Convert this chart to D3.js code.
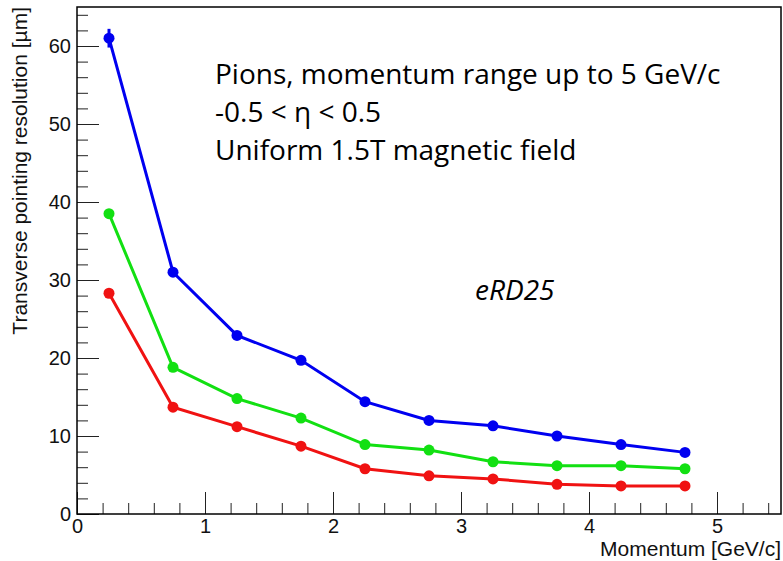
<!DOCTYPE html>
<html>
<head>
<meta charset="utf-8">
<script src="https://cdn.jsdelivr.net/npm/d3@7"></script>
<style>
  html, body { margin: 0; padding: 0; background: #fff; }
  svg { display: block; }
  .tick text { font-family: "Liberation Sans", Arial, sans-serif; }
</style>
</head>
<body>
<div id="chart"></div>
<script>
// momentum bins (GeV/c)
const momentum = [0.25, 0.75, 1.25, 1.75, 2.25, 2.75, 3.25, 3.75, 4.25, 4.75];

// transverse pointing resolution (um)
const blueRes  = [61.0, 31.0, 22.9, 19.7, 14.4, 12.0, 11.3, 10.0, 8.9, 7.9];
const greenRes = [38.5, 18.8, 14.8, 12.3, 8.9, 8.2, 6.7, 6.2, 6.2, 5.8];
const redRes   = [28.3, 13.7, 11.2, 8.7, 5.8, 4.9, 4.5, 3.8, 3.6, 3.6];

// error bars (mostly hidden under markers)
const blueErr  = [1.2, 0.5, 0.4, 0.4, 0.3, 0.3, 0.3, 0.3, 0.3, 0.3];
const greenErr = [0.6, 0.3, 0.3, 0.3, 0.2, 0.2, 0.2, 0.2, 0.2, 0.2];
const redErr   = [0.5, 0.3, 0.3, 0.2, 0.2, 0.2, 0.2, 0.2, 0.2, 0.2];

const xTicks = [0, 1, 2, 3, 4, 5];
const yTicks = [0, 10, 20, 30, 40, 50, 60];

const notes = [
  "Pions, momentum range up to 5 GeV/c",
  "-0.5 < \u03b7 < 0.5",
  "Uniform 1.5T magnetic field"
];

const series = [
  { name: "blue", color: "#0000f0", values: blueRes, errs: blueErr },
  { name: "green", color: "#12e012", values: greenRes, errs: greenErr },
  { name: "red", color: "#f01212", values: redRes, errs: redErr }
];

const width = 783;
const height = 561;
const margin = { top: 7, right: 2, bottom: 47, left: 77 };

const svg = d3.select("#chart")
  .append("svg")
  .attr("width", width)
  .attr("height", height);

const x = d3.scaleLinear()
  .domain([0, 5.5])
  .range([margin.left, width - margin.right]);

const y = d3.scaleLinear()
  .domain([0, 65])
  .range([height - margin.bottom, margin.top]);

// minor ticks
const xMinor = d3.range(0, 5.5001, 0.2).filter(v => Math.abs(v - Math.round(v)) > 1e-6);
const yMinor = d3.range(0, 65.001, 2).filter(v => v % 10 !== 0);

svg.append("g")
  .attr("transform", `translate(0,${height - margin.bottom})`)
  .call(d3.axisBottom(x).tickValues(xMinor).tickSize(-11).tickFormat(""))
  .call(g => g.select(".domain").remove())
  .call(g => g.selectAll("line").attr("stroke", "#222"));

svg.append("g")
  .attr("transform", `translate(${margin.left},0)`)
  .call(d3.axisLeft(y).tickValues(yMinor).tickSize(-11).tickFormat(""))
  .call(g => g.select(".domain").remove())
  .call(g => g.selectAll("line").attr("stroke", "#222"));

// major ticks + labels
svg.append("g")
  .attr("transform", `translate(0,${height - margin.bottom})`)
  .call(d3.axisBottom(x).tickValues(xTicks).tickSize(-22).tickPadding(5).tickFormat(d3.format("d")))
  .call(g => g.select(".domain").remove())
  .call(g => g.selectAll("line").attr("stroke", "#222"))
  .call(g => g.selectAll("text").attr("font-size", 20).attr("fill", "#111"));

svg.append("g")
  .attr("transform", `translate(${margin.left},0)`)
  .call(d3.axisLeft(y).tickValues(yTicks).tickSize(-22).tickPadding(6).tickFormat(d3.format("d")))
  .call(g => g.select(".domain").remove())
  .call(g => g.selectAll("line").attr("stroke", "#222"))
  .call(g => g.selectAll("text").attr("font-size", 20).attr("fill", "#111"));

// frame
svg.append("rect")
  .attr("x", margin.left)
  .attr("y", margin.top)
  .attr("width", width - margin.left - margin.right)
  .attr("height", height - margin.top - margin.bottom)
  .attr("fill", "none")
  .attr("stroke", "#000")
  .attr("stroke-width", 1.5);

// axis titles
svg.append("text")
  .attr("x", width - margin.right)
  .attr("y", 556)
  .attr("text-anchor", "end")
  .attr("font-family", "Liberation Sans, Arial, sans-serif")
  .attr("font-size", 21)
  .attr("fill", "#111")
  .text("Momentum [GeV/c]");

svg.append("text")
  .attr("transform", `translate(27,${margin.top}) rotate(-90)`)
  .attr("text-anchor", "end")
  .attr("font-family", "Liberation Sans, Arial, sans-serif")
  .attr("font-size", 21)
  .attr("fill", "#111")
  .text("Transverse pointing resolution [\u00b5m]");

// series
const line = d3.line()
  .x((d, i) => x(momentum[i]))
  .y(d => y(d));

series.forEach(s => {
  const g = svg.append("g").attr("class", "series-" + s.name);

  g.append("path")
    .datum(s.values)
    .attr("d", line)
    .attr("fill", "none")
    .attr("stroke", s.color)
    .attr("stroke-width", 3);

  g.selectAll("line.err")
    .data(s.values)
    .join("line")
    .attr("class", "err")
    .attr("x1", (d, i) => x(momentum[i]))
    .attr("x2", (d, i) => x(momentum[i]))
    .attr("y1", (d, i) => y(d - s.errs[i]))
    .attr("y2", (d, i) => y(d + s.errs[i]))
    .attr("stroke", s.color)
    .attr("stroke-width", 3);

  g.selectAll("circle")
    .data(s.values)
    .join("circle")
    .attr("cx", (d, i) => x(momentum[i]))
    .attr("cy", d => y(d))
    .attr("r", 5.5)
    .attr("fill", s.color);
});

// annotations
svg.append("g")
  .selectAll("text")
  .data(notes)
  .join("text")
  .attr("x", 215)
  .attr("y", (d, i) => 84 + i * 38)
  .attr("font-family", "Open Sans, Noto Sans, sans-serif")
  .attr("font-size", 28)
  .attr("fill", "#000")
  .text(d => d);

svg.append("text")
  .attr("x", 475)
  .attr("y", 300)
  .attr("font-family", "Open Sans, Noto Sans, sans-serif")
  .attr("font-style", "italic")
  .attr("font-size", 28)
  .attr("fill", "#000")
  .text("eRD25");
</script>
</body>
</html>
